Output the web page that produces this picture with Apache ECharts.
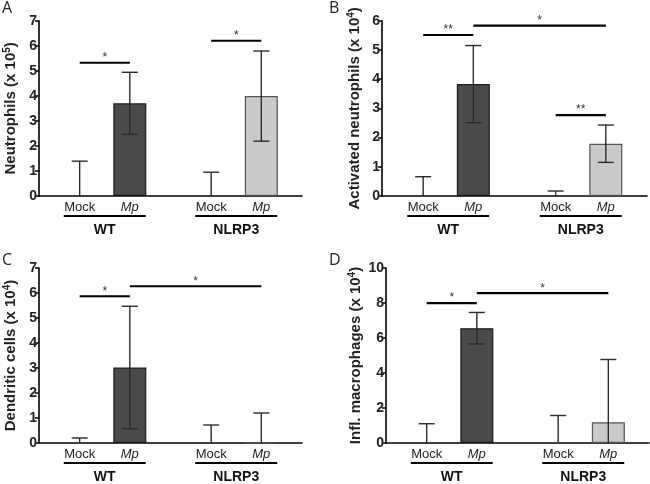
<!DOCTYPE html>
<html><head><meta charset="utf-8">
<script src="https://cdn.jsdelivr.net/npm/echarts@6/dist/echarts.min.js"></script>
<style>html,body{margin:0;padding:0;background:#fff}#c{width:650px;height:484px}</style>
</head><body><div id="c"></div>
<script>
// ---------- data ----------
const groups = ['WT', 'NLRP3'];
const conditions = ['Mock', 'Mp'];

// Panel A – Neutrophils (x 10^5)
const aMockMean = [0, 0];
const aMockSD   = [1.39, 0.95];
const aMpMean   = [3.70, 3.99];
const aMpSD     = [1.24, 1.80];
const aSigFrom  = [0, 2];
const aSigTo    = [1, 3];
const aSigY     = [5.32, 6.2];
const aSigText  = ['*', '*'];

// Panel B – Activated neutrophils (x 10^4)
const bMockMean = [0, 0];
const bMockSD   = [0.66, 0.17];
const bMpMean   = [3.83, 1.79];
const bMpSD     = [1.32, 0.64];
const bSigFrom  = [0, 1, 2];
const bSigTo    = [1, 3, 3];
const bSigY     = [5.51, 5.83, 2.77];
const bSigText  = ['**', '*', '**'];

// Panel C – Dendritic cells (x 10^4)
const cMockMean = [0, 0];
const cMockSD   = [0.20, 0.72];
const cMpMean   = [3.02, 0];
const cMpSD     = [2.45, 1.20];
const cSigFrom  = [0, 1];
const cSigTo    = [1, 3];
const cSigY     = [5.87, 6.27];
const cSigText  = ['*', '*'];

// Panel D – Infl. macrophages (x 10^4)
const dMockMean = [0, 0];
const dMockSD   = [1.10, 1.57];
const dMpMean   = [6.56, 1.19];
const dMpSD     = [0.90, 3.58];
const dSigFrom  = [0, 1];
const dSigTo    = [1, 3];
const dSigY     = [7.99, 8.56];
const dSigText  = ['*', '*'];

const yTitles = ['Neutrophils (x 10', 'Activated neutrophils (x 10', 'Dendritic cells (x 10', 'Infl. macrophages (x 10'];
const yExp    = ['5', '4', '4', '4'];
const yMax    = [7, 6, 7, 10];
const yStep   = [1, 1, 1, 2];
const panelLetters = ['A', 'B', 'C', 'D'];

// ---------- styles ----------
const BAR_W = 33, GAP = 0.52;
const FONT = 'Liberation Sans';
const groupFill   = ['#4b4b4b', '#cacaca'];
const groupBorder = ['#1a1a1a', '#555555'];
const gridsPos = [
  {left: 39,  top: 20.7, width: 263, height: 175.3},
  {left: 382, top: 20.7, width: 265, height: 175.3},
  {left: 39,  top: 268,  width: 263, height: 175.7},
  {left: 386, top: 268,  width: 263, height: 175.7}
];
const nameGaps = [19, 18, 19, 21];
const letterPos = [[2, 0], [329, 0], [2, 252], [329, 252]];

const panels = [
  {mockMean: aMockMean, mockSD: aMockSD, mpMean: aMpMean, mpSD: aMpSD, sf: aSigFrom, st: aSigTo, sy: aSigY, stx: aSigText},
  {mockMean: bMockMean, mockSD: bMockSD, mpMean: bMpMean, mpSD: bMpSD, sf: bSigFrom, st: bSigTo, sy: bSigY, stx: bSigText},
  {mockMean: cMockMean, mockSD: cMockSD, mpMean: cMpMean, mpSD: cMpSD, sf: cSigFrom, st: cSigTo, sy: cSigY, stx: cSigText},
  {mockMean: dMockMean, mockSD: dMockSD, mpMean: dMpMean, mpSD: dMpSD, sf: dSigFrom, st: dSigTo, sy: dSigY, stx: dSigText}
];

function barX(api, barIdx) {
  const g = Math.floor(barIdx / 2), c = barIdx % 2;
  const center = api.coord([g, 0])[0];
  return center + (c === 0 ? -1 : 1) * BAR_W * (1 + GAP) / 2;
}

function makeErrRender(p) {
  return function (params, api) {
    const i = params.dataIndex;           // 0..3 : WT Mock, WT Mp, NLRP3 Mock, NLRP3 Mp
    const g = Math.floor(i / 2), c = i % 2;
    const mean = c === 0 ? p.mockMean[g] : p.mpMean[g];
    const sd = c === 0 ? p.mockSD[g] : p.mpSD[g];
    const x = barX(api, i);
    const yTop = api.coord([g, mean + sd])[1];
    const lo = mean - sd;
    const yBot = api.coord([g, Math.max(0, lo)])[1];
    const cap = 8;
    const st = {stroke: '#2a2a2a', lineWidth: 1.4};
    const ch = [
      {type: 'line', shape: {x1: x, y1: yTop, x2: x, y2: yBot}, style: st},
      {type: 'line', shape: {x1: x - cap, y1: yTop, x2: x + cap, y2: yTop}, style: st}
    ];
    if (lo > 0) ch.push({type: 'line', shape: {x1: x - cap, y1: yBot, x2: x + cap, y2: yBot}, style: st});
    return {type: 'group', children: ch};
  };
}

function makeSigRender(p) {
  return function (params, api) {
    const i = params.dataIndex;
    const x1 = barX(api, p.sf[i]), x2 = barX(api, p.st[i]);
    const y = api.coord([0, p.sy[i]])[1];
    return {type: 'group', children: [
      {type: 'line', shape: {x1: x1, y1: y, x2: x2, y2: y}, style: {stroke: '#000', lineWidth: 2.2}},
      {type: 'text', x: (x1 + x2) / 2, y: y + 1, style: {text: p.stx[i], fill: '#333', font: '12px "Liberation Sans"', align: 'center', verticalAlign: 'bottom'}}
    ]};
  };
}

const grid = [], xAxis = [], yAxis = [], series = [], title = [];
panels.forEach(function (p, k) {
  grid.push(Object.assign({containLabel: false}, gridsPos[k]));
  title.push({text: panelLetters[k], left: letterPos[k][0], top: letterPos[k][1], padding: 0,
    textStyle: {fontFamily: 'Open Sans', fontWeight: 'normal', fontSize: 16, color: '#222'}});
  xAxis.push({
    type: 'category', gridIndex: k, data: groups,
    axisLine: {lineStyle: {color: '#000', width: 1.6}},
    axisTick: {alignWithLabel: true, length: 5, lineStyle: {color: '#000', width: 1.5}},
    axisLabel: {
      interval: 0, margin: 4, color: '#222', fontFamily: FONT,
      formatter: function (v) { return '{m|Mock}{p|Mp}\n{u|}\n{g|' + v + '}'; },
      rich: {
        m: {width: 50, align: 'center', fontSize: 13, fontFamily: FONT, color: '#222', lineHeight: 15},
        p: {width: 50, align: 'center', fontSize: 13, fontStyle: 'italic', fontFamily: FONT, color: '#222', lineHeight: 15},
        u: {width: 82, height: 2, lineHeight: 2, backgroundColor: '#000', align: 'center'},
        g: {fontSize: 14, fontWeight: 'bold', fontFamily: FONT, color: '#111', lineHeight: 26, align: 'center'}
      }
    }
  });
  yAxis.push({
    type: 'value', gridIndex: k, min: 0, max: yMax[k], interval: yStep[k],
    splitLine: {show: false},
    axisLine: {show: true, lineStyle: {color: '#000', width: 1.6}},
    axisTick: {show: true, length: 4, lineStyle: {color: '#000', width: 1.5}},
    axisLabel: {margin: 2, fontSize: 14, fontWeight: 'bold', color: '#222', fontFamily: FONT},
    name: '{t|' + yTitles[k] + '}{s|' + yExp[k] + '}{t|)}',
    nameLocation: 'middle', nameRotate: 90, nameGap: nameGaps[k],
    nameTextStyle: {
      fontSize: 15, fontWeight: 'bold', fontFamily: FONT, color: '#222',
      rich: {
        t: {fontSize: 15, fontWeight: 'bold', fontFamily: FONT, color: '#222'},
        s: {fontSize: 10, fontWeight: 'bold', fontFamily: FONT, color: '#222', verticalAlign: 'top', padding: [0, 0, 8, 0]}
      }
    }
  });
  series.push({
    type: 'bar', name: conditions[0], xAxisIndex: k, yAxisIndex: k,
    barWidth: BAR_W, barGap: (GAP * 100) + '%',
    data: p.mockMean.map(function (v, g) { return {value: v, itemStyle: {color: groupFill[g], borderWidth: 0}}; })
  });
  series.push({
    type: 'bar', name: conditions[1], xAxisIndex: k, yAxisIndex: k,
    barWidth: BAR_W, barGap: (GAP * 100) + '%',
    data: p.mpMean.map(function (v, g) { return {value: v, itemStyle: {color: groupFill[g], borderColor: groupBorder[g], borderWidth: 1.2}}; })
  });
  series.push({
    type: 'custom', xAxisIndex: k, yAxisIndex: k, clip: false, z: 5,
    renderItem: makeErrRender(p),
    data: [0, 1, 2, 3].map(function (i) { return [Math.floor(i / 2), 0]; })
  });
  series.push({
    type: 'custom', xAxisIndex: k, yAxisIndex: k, clip: false, z: 6,
    renderItem: makeSigRender(p),
    data: p.sy.map(function (y) { return [0, y]; })
  });
});

const chart = echarts.init(document.getElementById('c'), null, {renderer: 'canvas'});
chart.setOption({animation: false, backgroundColor: '#fff', title: title, grid: grid, xAxis: xAxis, yAxis: yAxis, series: series});
</script></body></html>
